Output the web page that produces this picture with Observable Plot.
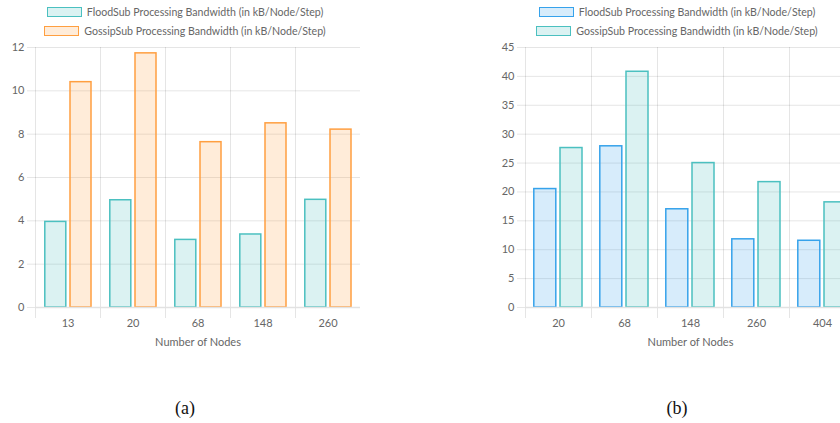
<!DOCTYPE html>
<html>
<head>
<meta charset="utf-8">
<script src="https://cdn.jsdelivr.net/npm/d3@7"></script>
<script src="https://cdn.jsdelivr.net/npm/@observablehq/plot@0.6"></script>
<style>
  html, body { margin: 0; padding: 0; background: #fff; }
  body { width: 840px; height: 423px; overflow: hidden; position: relative; font-family: Lato, sans-serif; }
  .legend { position: absolute; top: 3px; text-align: center; color: #666; font-size: 10.6px; }
  .row { height: 19px; line-height: 19px; white-space: nowrap; }
  .sw { display: inline-block; width: 33px; height: 8px; vertical-align: -1px; margin-right: 5px; border: 1.5px solid; }
  .panel { position: absolute; top: 40px; width: 420px; }
  .panel svg { max-width: none !important; }
  .cap { position: absolute; top: 398px; font-family: "Liberation Serif", serif; font-size: 18px; color: #111; text-align: center; }
</style>
</head>
<body>
<div id="legA" class="legend" style="left:0;width:370px"></div>
<div id="legB" class="legend" style="left:480px;width:394px"></div>
<div id="panA" class="panel" style="left:0"></div>
<div id="panB" class="panel" style="left:480px"></div>
<div class="cap" style="left:155px;width:60px">(a)</div>
<div class="cap" style="left:647px;width:60px">(b)</div>
<script>
const seriesNames = ["FloodSub", "GossipSub"];
const legendLabels = ["FloodSub Processing Bandwidth (in kB/Node/Step)", "GossipSub Processing Bandwidth (in kB/Node/Step)"];

const nodesA = ["13", "20", "68", "148", "260"];
const floodA = [3.95, 4.95, 3.12, 3.37, 4.97];
const gossipA = [10.4, 11.73, 7.63, 8.5, 8.21];
const ticksA = [0, 2, 4, 6, 8, 10, 12];

const nodesB = ["20", "68", "148", "260", "404"];
const floodB = [20.5, 27.9, 17.0, 11.8, 11.55];
const gossipB = [27.6, 40.8, 25.0, 21.7, 18.2];
const ticksB = [0, 5, 10, 15, 20, 25, 30, 35, 40, 45];

const colorsA = ["rgb(75,192,192)", "rgb(255,159,64)"];
const colorsB = ["rgb(54,162,235)", "rgb(75,192,192)"];

function legend(el, colors) {
  el.innerHTML = legendLabels.map((t, i) =>
    `<div class="row"><span class="sw" style="border-color:${colors[i]};background:${colors[i].replace("rgb", "rgba").replace(")", ",0.2)")}"></span>${t}</div>`
  ).join("");
}

function panel(nodes, flood, gossip, ticks, colors, marginLeft, width) {
  const data = nodes.flatMap((n, i) => [
    {n, s: seriesNames[0], v: flood[i]},
    {n, s: seriesNames[1], v: gossip[i]}
  ]);
  const barOpts = {fx: "n", x: "s", y: "v", fill: "s", fillOpacity: 0.2, stroke: "s", strokeWidth: 1.5};
  return Plot.plot({
    width, height: 312,
    marginTop: 7, marginBottom: 45, marginLeft, marginRight: 8,
    style: {fontFamily: "Lato, sans-serif", fontSize: "11px", color: "#666", overflow: "visible"},
    fx: {domain: nodes, padding: 0, label: "Number of Nodes"},
    x: {domain: seriesNames, padding: 0, axis: null},
    y: {domain: [0, ticks[ticks.length - 1]]},
    color: {domain: seriesNames, range: colors},
    marks: [
      Plot.gridY(ticks, {stroke: "#000", strokeOpacity: 0.1}),
      Plot.frame({anchor: "left", stroke: "#000", strokeOpacity: 0.1, insetBottom: -10}),
      Plot.barY(data.filter(d => d.s === seriesNames[0]), {...barOpts, insetLeft: 8.8, insetRight: 2.2}),
      Plot.barY(data.filter(d => d.s === seriesNames[1]), {...barOpts, insetLeft: 2, insetRight: 9}),
      Plot.ruleY([0], {stroke: "#e2e2e2", strokeWidth: 1.6}),
      Plot.axisY(ticks, {tickSize: 8, tickPadding: 3, stroke: "#e6e6e6", fill: "#666", label: null}),
      Plot.axisFx({anchor: "bottom", tickSize: 0, tickPadding: 12, label: "Number of Nodes", labelAnchor: "center", labelArrow: "none", labelOffset: 38, fill: "#666"})
    ]
  });
}

legend(document.getElementById("legA"), colorsA);
legend(document.getElementById("legB"), colorsB);
document.getElementById("panA").append(panel(nodesA, floodA, gossipA, ticksA, colorsA, 33, 370));
document.getElementById("panB").append(panel(nodesB, floodB, gossipB, ticksB, colorsB, 44, 383));
</script>
</body>
</html>
